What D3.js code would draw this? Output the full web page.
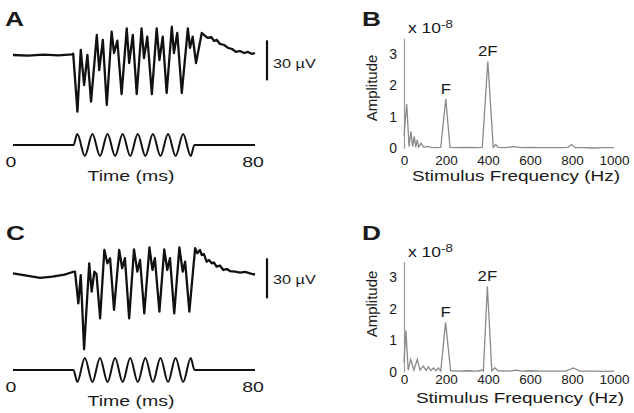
<!DOCTYPE html>
<html>
<head>
<meta charset="utf-8">
<script src="https://cdn.jsdelivr.net/npm/d3@7"></script>
<style>
  body { margin: 0; background: #fff; }
  svg { display: block; }
  text { font-family: Arial, "Liberation Sans", Helvetica, sans-serif; fill: #1a1a1a; }
</style>
</head>
<body>
<div id="fig"></div>
<script>
// ---- data ----
// panel A response, time in ms, voltage in µV
const timeA = [0, 5, 10, 15, 19.5, 19.9, 21.3, 22.4, 23.5, 24.6, 25.8, 27.7, 28.5, 29.7, 31.0, 32.6, 33.4, 34.5, 35.9, 37.6,
  38.4, 39.6, 40.9, 42.5, 43.3, 44.4, 45.9, 47.5, 48.4, 49.5, 50.8, 52.5, 53.2, 54.3, 55.8, 57.8, 58.5, 59.4, 60.5, 62.4,
  63.5, 64.5, 65.5, 66.5, 67.4, 68.4, 69.8, 71.1, 72.4, 73.7, 75, 76.4, 77.7, 79, 80];
const voltA = [0, -0.5, 0.3, -0.3, 0.5, 1, -42.5, 3.8, -22.5, 0, -35, 15, -11.3, 11.3, -37.5, 17.5, 1.5, 10.7, -29.3, 20,
  -6, 15, -29.3, 20, -2.3, 13.7, -29.3, 20, -3.8, 13.7, -28.5, 21.2, 1.5, 16.5, -28.5, 20, 5.3, 13.7, -6, 16.5,
  14.3, 12.8, 13.5, 10.5, 11.3, 8.3, 7.5, 5.3, 4.5, 2.3, 3, 1.5, 2.3, 0.8, 1.5];

// panel C response
const timeC = [0, 4, 9, 13, 17, 19.5, 20.5, 21.6, 22.4, 23.5, 25.2, 26.0, 26.9, 27.6, 28.8, 30.2, 31.2, 32.1, 33.4, 35.1,
  36.1, 37.0, 38.4, 40.0, 41.1, 42.0, 43.4, 45.1, 46.1, 46.9, 48.4, 50.0, 51.0, 51.9, 53.3, 55.0, 56.1, 56.9, 58.3, 60.2,
  60.9, 61.8, 62.4, 63.1, 64.0, 64.8, 65.7, 66.4, 67.3, 68.4, 69.5, 70.7, 71.7, 73.4, 75.1, 76.7, 78.9, 80];
const voltC = [0, -1.5, -3.5, -2.5, -1, 0.8, 1.2, -22.5, -1.3, -57, 7.5, -13.8, 1.2, -0.5, -33.8, 17.5, 7.5, 11.3, -27.5, 17.5,
  3.8, 11.3, -33.8, 18, 1.2, 10, -30, 19.5, 2.5, 11.3, -28.8, 18, 2.5, 11.3, -30, 19.5, 1.2, 8.7, -28.8, 18.8,
  15, 17.5, 13.7, 14.5, 8.7, 10, 7.5, 8.1, 5, 5.8, 2.5, 3.2, 1.7, 1.3, 0.5, 1, -0.5, -0.9];

// stimulus: 200 Hz tone from 20 to 60 ms, extrema positions
const stimTimes = [0, 20, 21.25, 23.75, 26.25, 28.75, 31.25, 33.75, 36.25, 38.75, 41.25, 43.75,
  46.25, 48.75, 51.25, 53.75, 56.25, 58.75, 60, 80];
const stimA = [0, 0, 1, -1, 1, -1, 1, -1, 1, -1, 1, -1, 1, -1, 1, -1, 1, -1, 0, 0];
const stimC = [0, 0, -1, 1, -1, 1, -1, 1, -1, 1, -1, 1, -1, 1, -1, 1, -1, 1, 0, 0];

const timeTicks = [0, 80];
const scaleBarMicroV = 30;

// spectra, frequency in Hz, amplitude in units of 1e-8
const freqB = [0, 13, 24, 33, 41, 49, 56, 63, 70, 81, 95, 110, 130, 150, 175, 199, 219, 250, 300, 340,
  373, 399, 425, 437, 448, 480, 520, 560, 600, 650, 700, 750, 780, 798, 815, 850, 900, 950, 1000];
const ampB = [0.4, 1.41, 0.05, 0.54, 0.05, 0.38, 0.03, 0.27, 0.04, 0.16, 0.03, 0.06, 0.03, 0.02, 0.03, 1.57, 0.03, 0.02, 0.03, 0.02,
  0.03, 2.77, 0.03, 0.12, 0.03, 0.02, 0.05, 0.02, 0.03, 0.02, 0.02, 0.02, 0.03, 0.12, 0.02, 0.02, 0.01, 0.02, 0.02];

const freqD = [0, 9, 20, 32, 47, 63, 76, 92, 105, 116, 128, 140, 152, 163, 175, 198, 222, 260, 300, 340,
  362, 370, 378, 397, 418, 433, 449, 500, 536, 560, 600, 650, 700, 770, 806, 838, 900, 950, 1000];
const ampD = [0.3, 1.31, 0.05, 0.39, 0.05, 0.39, 0.05, 0.18, 0.04, 0.15, 0.04, 0.12, 0.03, 0.12, 0.02, 1.57, 0.03, 0.02, 0.03, 0.02,
  0.03, 0.06, 0.02, 2.72, 0.03, 0.12, 0.03, 0.02, 0.05, 0.02, 0.03, 0.02, 0.02, 0.02, 0.12, 0.02, 0.02, 0.01, 0.02];

const freqTicks = [0, 200, 400, 600, 800, 1000];
const ampTicks = [0, 1, 2, 3];
const peakLabels = ['F', '2F'];
const peakBands = [[150, 250], [350, 450]];   // where to look for the F and 2F peaks

// ---- drawing ----
const svg = d3.select('#fig').append('svg')
  .attr('width', 634)
  .attr('height', 413);

svg.append('rect').attr('width', 634).attr('height', 413).attr('fill', '#fff');

// the source figure's lettering is wider than Arial, so stretch it a bit
function stretch(sel, k) {
  sel.each(function () {
    const w = this.getComputedTextLength();
    d3.select(this).attr('textLength', w * k).attr('lengthAdjust', 'spacingAndGlyphs');
  });
}

function peakIndex(freq, amp, lo, hi) {
  let best = -1;
  freq.forEach((f, i) => {
    if (f >= lo && f <= hi && (best < 0 || amp[i] > amp[best])) best = i;
  });
  return best;
}

function panelLetter(txt, x, y) {
  svg.append('text')
    .attr('x', x).attr('y', y)
    .style('font-size', '21px')
    .style('font-weight', 'bold')
    .text(txt)
    .call(stretch, 1.25);
}

function drawTrace(p) {
  const g = svg.append('g');
  const x = d3.scaleLinear().domain([0, 80]).range([13, 255]);
  const y = d3.scaleLinear().domain([-60, 30]).range([p.base + 80, p.base - 40]);
  const ys = d3.scaleLinear().domain([-1, 1]).range([p.stim + p.stimAmp, p.stim - p.stimAmp]);

  // recorded response
  g.append('path')
    .datum(d3.zip(p.time, p.volt))
    .attr('d', d3.line().x(d => x(d[0])).y(d => y(d[1])))
    .attr('fill', 'none')
    .attr('stroke', '#111')
    .attr('stroke-width', 2.3)
    .attr('stroke-linejoin', 'round');

  // stimulus waveform
  g.append('path')
    .datum(d3.zip(stimTimes, p.stimLevels))
    .attr('d', d3.line().curve(d3.curveMonotoneX).x(d => x(d[0])).y(d => ys(d[1])))
    .attr('fill', 'none')
    .attr('stroke', '#111')
    .attr('stroke-width', 2);

  // 30 µV scale bar
  g.append('line')
    .attr('x1', 267).attr('x2', 267)
    .attr('y1', y(p.barTop)).attr('y2', y(p.barTop - scaleBarMicroV))
    .attr('stroke', '#111')
    .attr('stroke-width', 2.2);
  g.append('text')
    .attr('x', 273)
    .attr('y', (y(p.barTop) + y(p.barTop - scaleBarMicroV)) / 2 + p.barTextDy)
    .style('font-size', '13px')
    .text(scaleBarMicroV + ' \u00B5V')
    .call(stretch, 1.25);

  // time labels
  g.selectAll('.tt')
    .data(timeTicks)
    .enter()
    .append('text')
    .attr('x', d => x(d) - 2)
    .attr('y', p.tickY)
    .attr('text-anchor', 'middle')
    .style('font-size', '15px')
    .text(d => d)
    .call(stretch, 1.3);

  g.append('text')
    .attr('x', 131)
    .attr('y', p.titleY)
    .attr('text-anchor', 'middle')
    .style('font-size', '15px')
    .text('Time (ms)')
    .call(stretch, 1.3);
}

function drawSpectrum(p) {
  const g = svg.append('g');
  const x = d3.scaleLinear().domain([0, 1000]).range([404, 614]);
  const y = d3.scaleLinear().domain([0, 3.5]).range([p.zeroY, p.zeroY - 110]);

  // y axis: thin grey line with bare numbers
  const ya = g.append('g')
    .attr('transform', 'translate(404,0)')
    .call(d3.axisLeft(y).tickValues(ampTicks).tickFormat(d3.format('d'))
      .tickSize(0).tickSizeOuter(0).tickPadding(7));
  ya.select('.domain').attr('stroke', '#9a9a9a').attr('stroke-width', 1.2);
  ya.selectAll('text').style('font-size', '14px')
    .style('font-family', 'Arial, "Liberation Sans", sans-serif').attr('fill', '#1a1a1a');

  // x axis: labels only
  const xa = g.append('g')
    .attr('transform', `translate(0,${p.zeroY})`)
    .call(d3.axisBottom(x).tickValues(freqTicks).tickFormat(d3.format('d'))
      .tickSize(0).tickPadding(p.tickPad));
  xa.select('.domain').remove();
  xa.selectAll('text').style('font-size', '13.5px')
    .style('font-family', 'Arial, "Liberation Sans", sans-serif').attr('fill', '#1a1a1a');

  // spectrum
  g.append('path')
    .datum(d3.zip(p.freq, p.amp))
    .attr('d', d3.line().x(d => x(d[0])).y(d => y(d[1])))
    .attr('fill', 'none')
    .attr('stroke', '#8a8a8a')
    .attr('stroke-width', 1.3);

  // F / 2F markers above the fundamental and 2nd harmonic peaks
  const peaks = peakBands.map(b => peakIndex(p.freq, p.amp, b[0], b[1]));
  g.selectAll('.pk')
    .data(peakLabels)
    .enter()
    .append('text')
    .attr('x', (d, i) => x(p.freq[peaks[i]]))
    .attr('y', (d, i) => y(p.amp[peaks[i]]) - 5)
    .attr('text-anchor', 'middle')
    .style('font-size', '14px')
    .text(d => d)
    .call(stretch, 1.2);

  // exponent
  const ex = g.append('text')
    .attr('x', 408)
    .attr('y', p.zeroY - 115)
    .style('font-size', '14px');
  ex.append('tspan').text('x 10');
  ex.append('tspan').attr('dy', -5).style('font-size', '10.5px').text('-8');
  ex.call(stretch, 1.25);

  g.append('text')
    .attr('transform', `translate(${p.ampLabelX},${p.ampLabelY}) rotate(-90)`)
    .attr('text-anchor', 'middle')
    .style('font-size', '15px')
    .text('Amplitude');

  g.append('text')
    .attr('x', p.xTitleX)
    .attr('y', p.xTitleY)
    .attr('text-anchor', 'middle')
    .style('font-size', '15.5px')
    .text('Stimulus Frequency (Hz)')
    .call(stretch, 1.22);
}

panelLetter('A', 5, 26);
panelLetter('B', 362, 26);
panelLetter('C', 6, 240);
panelLetter('D', 362, 240);

drawTrace({ time: timeA, volt: voltA, stimLevels: stimA, base: 55, stim: 145, stimAmp: 11,
  barTop: 11, barTextDy: 8, tickY: 167, titleY: 181 });
drawTrace({ time: timeC, volt: voltC, stimLevels: stimC, base: 273.3, stim: 370, stimAmp: 12,
  barTop: 11.2, barTextDy: 6, tickY: 392, titleY: 406 });

drawSpectrum({ freq: freqB, amp: ampB, zeroY: 148.3, tickPad: 7, ampLabelX: 377, ampLabelY: 88, xTitleX: 516, xTitleY: 181 });
drawSpectrum({ freq: freqD, amp: ampD, zeroY: 371.7, tickPad: 3, ampLabelX: 377, ampLabelY: 304, xTitleX: 520, xTitleY: 402.5 });
</script>
</body>
</html>
